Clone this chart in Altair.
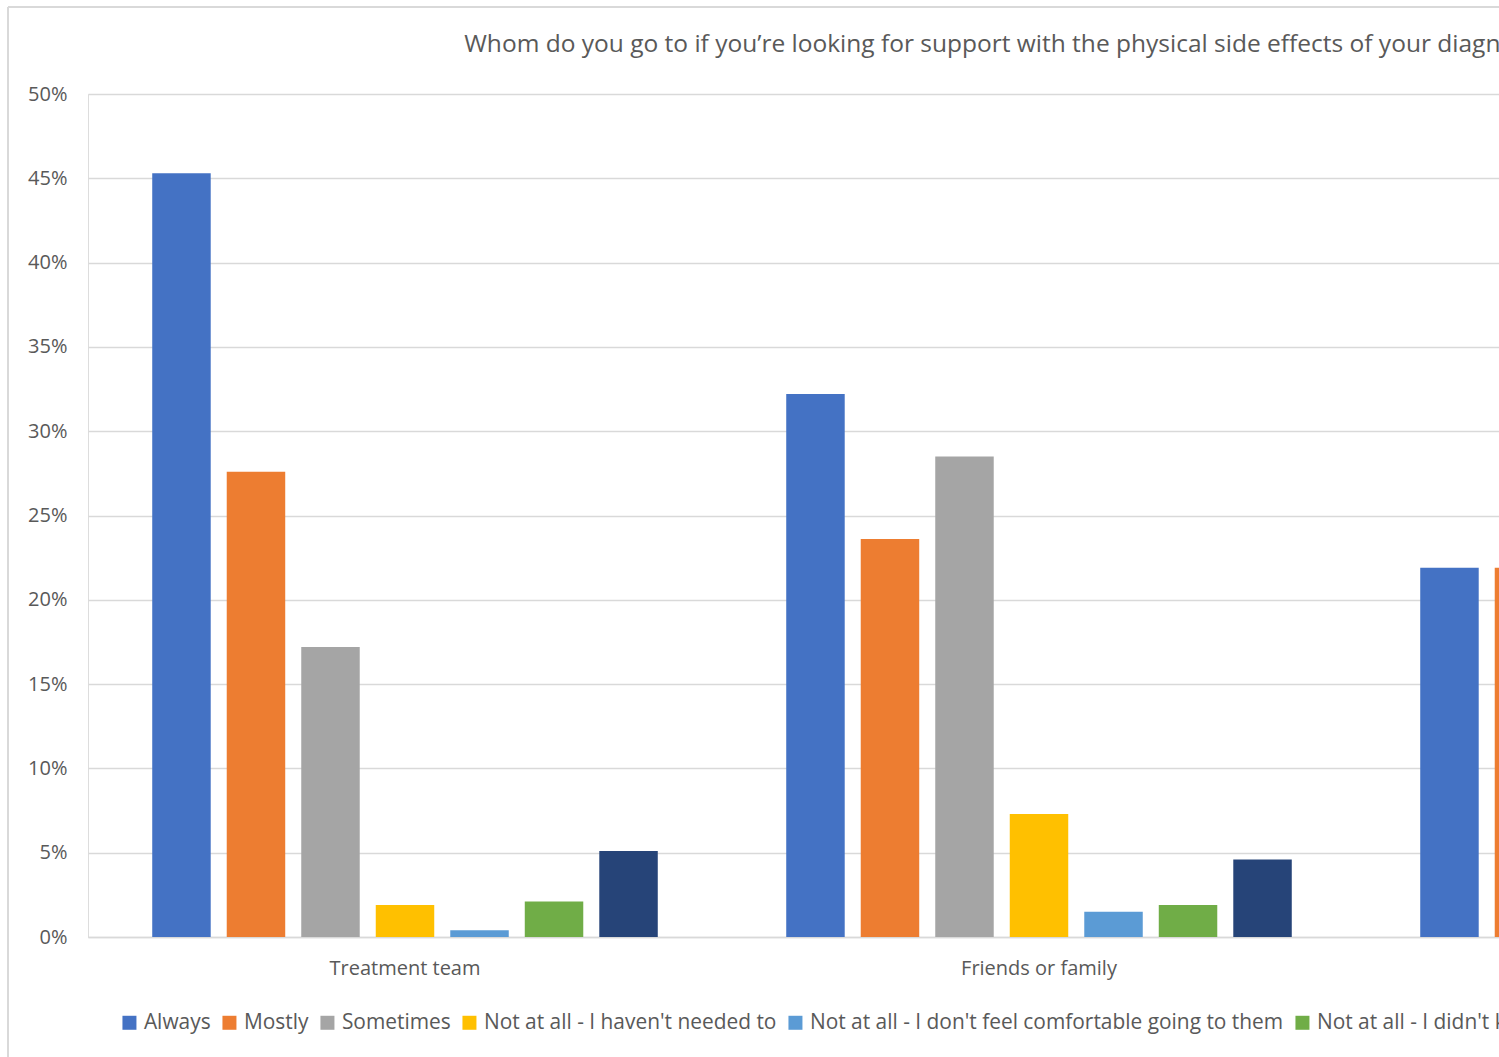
import altair as alt
import pandas as pd

categories = ["Treatment team", "Friends or family", "Online forums"]
series = [
    "Always",
    "Mostly",
    "Sometimes",
    "Not at all - I haven't needed to",
    "Not at all - I don't feel comfortable going to them",
    "Not at all - I didn't know they could help",
    "Not applicable",
]
colors = ["#4472C4", "#ED7D31", "#A5A5A5", "#FFC000", "#5B9BD5", "#70AD47", "#264478"]

treatment_team = [45.3, 27.6, 17.2, 1.9, 0.4, 2.1, 5.1]
friends_family = [32.2, 23.6, 28.5, 7.3, 1.5, 1.9, 4.6]
third_group = [21.9, 21.9, 19.0, 20.0, 3.0, 9.0, 5.2]

title_text = "Whom do you go to if you\u2019re looking for support with the physical side effects of your diagnosis?"
y_ticks = [0, 0.05, 0.10, 0.15, 0.20, 0.25, 0.30, 0.35, 0.40, 0.45, 0.50]

rows = []
for cat, vals in zip(categories, [treatment_team, friends_family, third_group]):
    for s, v in zip(series, vals):
        rows.append({"category": cat, "series": s, "value": v / 100.0})
df = pd.DataFrame(rows)

FONT = "Open Sans"
TXT = "#595959"
GRID = "#D9D9D9"

bars = alt.Chart(df).mark_bar(clip=True).encode(
    x=alt.X("category:N", sort=categories,
            scale=alt.Scale(paddingInner=0, paddingOuter=0),
            axis=alt.Axis(title=None, labelAngle=0, ticks=False, domain=True,
                          domainColor=GRID, domainWidth=1.5, labelPadding=21,
                          labelFontSize=20, labelFont=FONT, labelColor=TXT,
                          labelLimit=1000)),
    xOffset=alt.XOffset("series:N", sort=series,
                        scale=alt.Scale(paddingInner=0.215, paddingOuter=0.862)),
    y=alt.Y("value:Q", scale=alt.Scale(domain=[0, 0.5]),
            axis=alt.Axis(title=None, format=".0%", values=y_ticks, ticks=False,
                          tickSize=0, domain=False, grid=True, gridColor=GRID,
                          gridWidth=1.3, labelPadding=21, labelFontSize=20,
                          labelFont=FONT, labelColor=TXT)),
    color=alt.Color("series:N", sort=series,
                    scale=alt.Scale(domain=series, range=colors),
                    legend=alt.Legend(title=None, orient="none", direction="horizontal",
                                      columns=7, legendX=31, legendY=918,
                                      symbolType="square", symbolSize=196,
                                      symbolStrokeWidth=0, labelOffset=4,
                                      columnPadding=8, labelFontSize=20.9,
                                      labelFont=FONT, labelColor=TXT, labelLimit=1000)),
)

left_border = alt.Chart(df).mark_rule(color=GRID, strokeWidth=1.5).encode(
    x=alt.value(-80), y=alt.value(-87), y2=alt.value(1000)
)
top_border = alt.Chart(df).mark_rule(color=GRID, strokeWidth=1.5).encode(
    x=alt.value(-80), x2=alt.value(2000), y=alt.value(-87)
)

chart = alt.layer(bars, left_border, top_border).properties(
    width=1902,
    height=843,
    title=alt.TitleParams(title_text, anchor="start", dx=457, offset=-51,
                          font=FONT, fontSize=24.5, fontWeight="normal", color=TXT),
    autosize=alt.AutoSizeParams(type="none"),
    padding={"left": 88, "top": 94, "right": -491, "bottom": 120},
).configure_view(stroke=None).configure(background="white")

chart.save("out.html", embed_options={"renderer": "svg", "actions": False})
